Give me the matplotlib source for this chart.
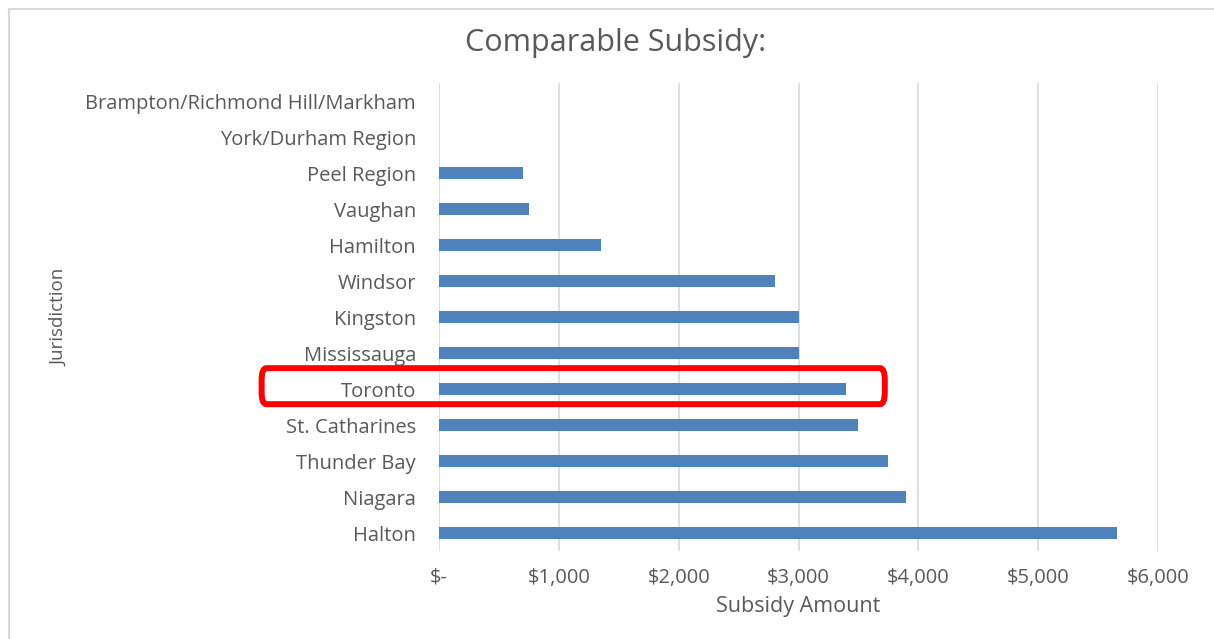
import matplotlib.pyplot as plt
from matplotlib.patches import FancyBboxPatch
from matplotlib.ticker import FuncFormatter
from matplotlib.lines import Line2D

# categories top-to-bottom as shown
jurisdictions = ['Brampton/Richmond Hill/Markham', 'York/Durham Region', 'Peel Region',
                 'Vaughan', 'Hamilton', 'Windsor', 'Kingston', 'Mississauga', 'Toronto',
                 'St. Catharines', 'Thunder Bay', 'Niagara', 'Halton']
subsidy = [0, 0, 700, 750, 1350, 2800, 3000, 3000, 3400, 3500, 3750, 3900, 5660]
highlight = 'Toronto'

plt.rcParams['font.family'] = ['Open Sans', 'DejaVu Sans']
txt = '#595959'

fig = plt.figure(figsize=(12.14, 6.39), dpi=100)
ax = fig.add_axes([0.3616, 0.1377, 0.5923, 0.7323])

# reverse so first item sits at top
names = jurisdictions[::-1]
vals = subsidy[::-1]
ypos = list(range(len(names)))
ax.barh(ypos, vals, height=0.34, color='#4f81bd', zorder=3)

ax.set_xlim(0, 6000)
ax.set_ylim(-0.5, len(names) - 0.5)
ax.set_xticks([0, 1000, 2000, 3000, 4000, 5000, 6000])
ax.xaxis.set_major_formatter(FuncFormatter(lambda v, p: '$-' if v == 0 else '${:,.0f}'.format(v)))
ax.set_yticks(ypos)
ax.set_yticklabels(names)
ax.tick_params(length=0, labelcolor=txt)
ax.tick_params(axis='y', pad=16.5, labelsize=14.5)
ax.tick_params(axis='x', pad=12, labelsize=14.5)
ax.grid(axis='x', color='#d9d9d9', lw=1.2, zorder=0)
for s in ax.spines.values():
    s.set_visible(False)

ax.set_xlabel('Subsidy Amount', fontsize=15.5, color=txt, labelpad=6)
ax.set_ylabel('Jurisdiction', fontsize=13.5, color=txt)
ax.yaxis.set_label_coords(-0.515, 0.5)
fig.text(0.507, 0.933, 'Comparable Subsidy:', ha='center', va='center', fontsize=22, color=txt)

# red highlight box around Toronto row
ti = names.index(highlight)
box = FancyBboxPatch((-1480, ti - 0.42), 3720 + 1480, 1.0,
                     boxstyle='round,pad=0,rounding_size=40', fill=False,
                     ec='#ff0000', lw=4.3, clip_on=False, zorder=5,
                     mutation_aspect=1 / 120)
ax.add_patch(box)

# chart border
fig.add_artist(Line2D([0.0074, 0.0074], [0, 0.986], transform=fig.transFigure, color='#d9d9d9', lw=1.5))
fig.add_artist(Line2D([0.0074, 1], [0.986, 0.986], transform=fig.transFigure, color='#d9d9d9', lw=1.5))

fig.savefig('out.png', dpi=100)
